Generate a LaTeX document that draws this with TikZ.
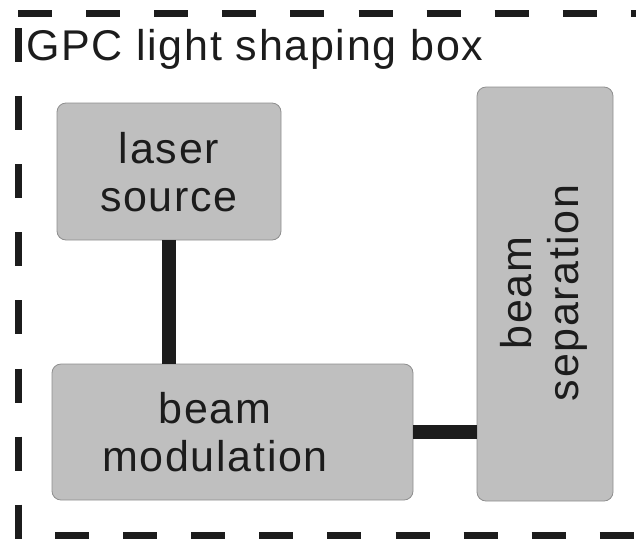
\documentclass[tikz,border=0pt]{standalone}
\usepackage{fontspec}
\setmainfont{Liberation Sans}[LetterSpace=4]
\definecolor{boxfill}{HTML}{BFBFBF}
\definecolor{boxline}{HTML}{8E8E8E}
\definecolor{ink}{HTML}{1C1C1C}
\tikzset{
  blockbox/.style={draw=boxline, line width=0.8pt, fill=boxfill, rounded corners=9pt, inner sep=0pt},
  blocktext/.style={text=ink, align=center, inner sep=0pt, font=\fontsize{43}{47.5}\selectfont},
  link/.style={draw=ink, line width=13.5pt},
  frame/.style={draw=ink, line width=7pt, dash pattern=on 34pt off 34.1pt}
}
\begin{document}
\begin{tikzpicture}[x=1pt,y=-1pt]
\useasboundingbox (0,0) rectangle (636,539);
% dashed frame
\coordinate (t1) at (18,13.5);
\coordinate (t2) at (640,13.5);
\coordinate (l1) at (18.5,28);
\coordinate (l2) at (18.5,539.5);
\coordinate (b1) at (55,535.5);
\coordinate (b2) at (640,535.5);
\draw[frame] (t1) -- (t2);
\draw[frame] (l1) -- (l2);
\draw[frame] (b1) -- (b2);
\node[anchor=base west, inner sep=0pt, text=ink, font=\fontsize{43}{47.5}\selectfont] (title) at (26,60) {GPC light shaping box};
% blocks
\path[blockbox] (57,103) rectangle (281,240);
\node[minimum width=224pt, minimum height=137pt, inner sep=0pt] (laser) at (169,171.5) {};
\path[blockbox] (52,364) rectangle (413,500);
\node[minimum width=361pt, minimum height=136pt, inner sep=0pt] (mod) at (232.5,432) {};
\path[blockbox] (477,87) rectangle (613,501);
\node[minimum width=136pt, minimum height=414pt, inner sep=0pt] (sep) at (545,294) {};
% texts
\node[blocktext] (lasertext) at (169,172) {laser\\source};
\node[blocktext] (modtext) at (215,432) {beam\\modulation};
\node[blocktext, rotate=90] (septext) at (544,293) {beam\\separation};
% connectors
\draw[link] (laser.south) -- (laser.south |- mod.north);
\draw[link] (mod.east) -- (mod.east -| sep.west);
\end{tikzpicture}
\end{document}
